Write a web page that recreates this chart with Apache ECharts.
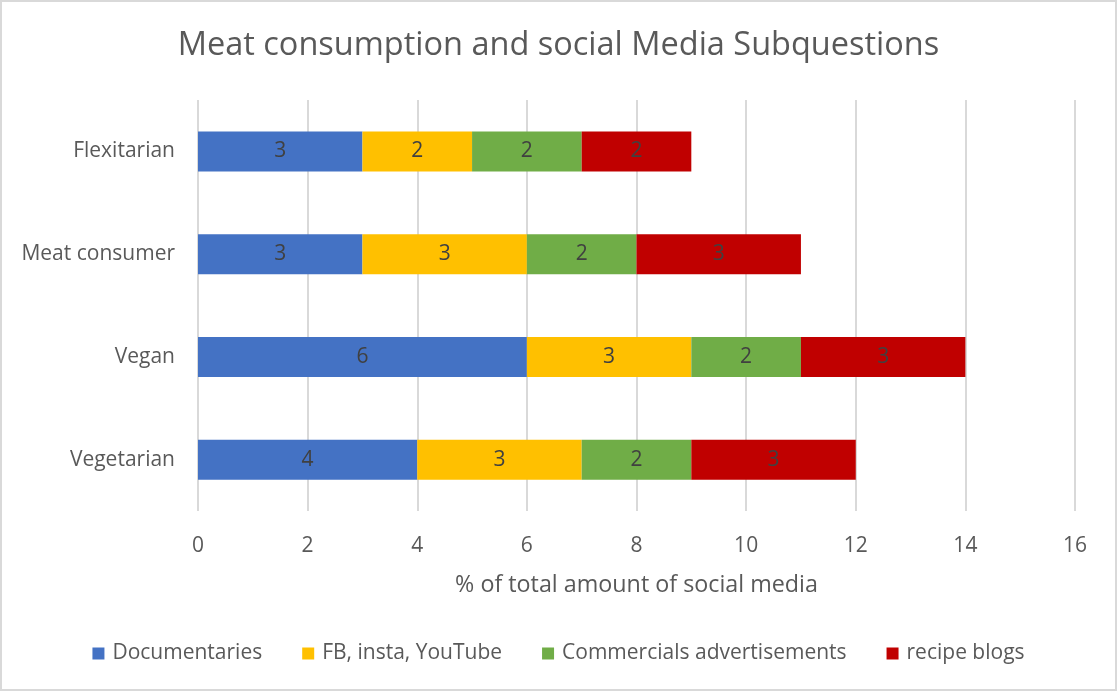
<!DOCTYPE html>
<html>
<head>
<meta charset="utf-8">
<script src="https://cdn.jsdelivr.net/npm/echarts@6/dist/echarts.min.js"></script>
<style>
  html, body { margin: 0; padding: 0; background: #fff; }
  #chart { position: absolute; left: 0; top: 0; width: 1117px; height: 691px; box-sizing: border-box; border: 2px solid #d9d9d9; }
</style>
</head>
<body>
<div id="chart"></div>
<script>
// Diet groups, listed bottom to top on the category axis
const categories = ['Vegetarian', 'Vegan', 'Meat consumer', 'Flexitarian'];

const documentaries = [4, 6, 3, 3];
const socialPlatforms = [3, 3, 3, 2];
const commercials = [2, 2, 2, 2];
const recipeBlogs = [3, 3, 3, 2];

const seriesNames = ['Documentaries', 'FB, insta, YouTube', 'Commercials advertisements', 'recipe blogs'];
const seriesColors = ['#4472C4', '#FFC000', '#70AD47', '#C00000'];

const xTicks = [0, 2, 4, 6, 8, 10, 12, 14, 16];

const font = '"Open Sans", "Noto Sans", sans-serif';
const chart = echarts.init(document.getElementById('chart'), null, { renderer: 'canvas' });

const seriesData = [documentaries, socialPlatforms, commercials, recipeBlogs];

chart.setOption({
  animation: false,
  textStyle: { fontFamily: font },
  title: {
    text: 'Meat consumption and social Media Subquestions',
    left: 'center',
    top: 22,
    textStyle: { fontSize: 32.5, fontWeight: 'normal', color: '#595959', fontFamily: font }
  },
  legend: {
    bottom: 20,
    left: 'center',
    itemWidth: 12,
    itemHeight: 12,
    itemGap: 40,
    icon: 'rect',
    textStyle: { fontSize: 21, color: '#595959', fontFamily: font, padding: [0, 0, 0, 3] },
    data: seriesNames
  },
  grid: { left: 196, right: 40, top: 98, bottom: 178 },
  xAxis: {
    type: 'value',
    min: xTicks[0],
    max: xTicks[xTicks.length - 1],
    interval: 2,
    name: '% of total amount of social media',
    nameLocation: 'middle',
    nameGap: 63,
    nameTextStyle: { fontSize: 23.3, color: '#595959' },
    axisLine: { show: false },
    axisTick: { show: false },
    axisLabel: { fontSize: 21, color: '#595959', margin: 25 },
    splitLine: { lineStyle: { color: '#d9d9d9', width: 2 } }
  },
  yAxis: {
    type: 'category',
    data: categories,
    axisLine: { show: false },
    axisTick: { show: false },
    axisLabel: { fontSize: 21, color: '#595959', margin: 23 }
  },
  series: seriesNames.map((name, i) => ({
    name: name,
    type: 'bar',
    stack: 'total',
    barWidth: 40,
    data: seriesData[i],
    itemStyle: { color: seriesColors[i] },
    label: {
      show: true,
      position: 'inside',
      fontSize: 21,
      color: '#404040',
      fontFamily: font
    }
  }))
});
</script>
</body>
</html>
